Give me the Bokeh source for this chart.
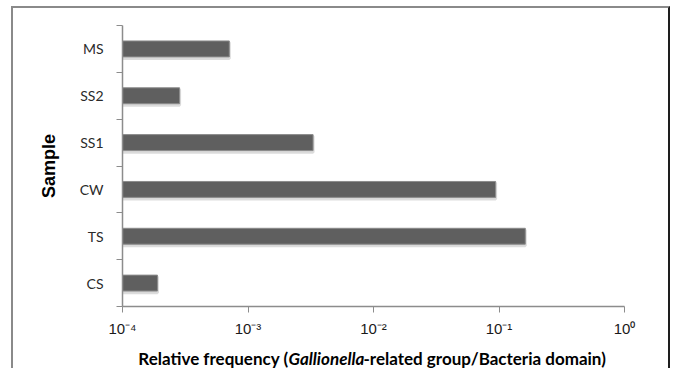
from bokeh.plotting import figure
from bokeh.models import Range1d, FixedTicker, ColumnDataSource, Label
from bokeh.layouts import column
from bokeh.transform import dodge
from bokeh.embed import file_html
from bokeh.resources import INLINE

# ---- data (top-to-bottom order as in the chart) ----
samples = ["MS", "SS2", "SS1", "CW", "TS", "CS"]
rel_freq = [7.1e-4, 2.85e-4, 3.3e-3, 0.094, 0.162, 1.9e-4]
x_tick_values = [1e-4, 1e-3, 1e-2, 1e-1, 1e0]
x_tick_labels = ["10⁻⁴", "10⁻³", "10⁻²", "10⁻¹", "10⁰"]
x_start = 1e-4
x_title_parts = ["Relative frequency (", "Gallionella", "-related group/Bacteria domain)"]

n = len(samples)
ypos = [n - i - 0.5 for i in range(n)]
src = ColumnDataSource(dict(y=ypos, right=rel_freq, left=[x_start] * n, name=samples))

W, H = 659, 336
BL, BR = 109, 48          # borders around the plotting frame
GRAY = "2px solid #8a8a8a"
DARK = "2px solid #1e1e1e"

p = figure(width=W, height=H, x_axis_type="log",
           x_range=Range1d(x_tick_values[0], x_tick_values[-1]),
           y_range=Range1d(0, n),
           output_backend="svg", toolbar_location=None,
           min_border_left=BL, min_border_right=BR,
           min_border_top=17, min_border_bottom=38)
p.styles = {"margin-left": "11px", "margin-top": "6px",
            "border-left": GRAY, "border-top": GRAY, "border-right": DARK}
p.outline_line_color = None
p.grid.visible = False
p.background_fill_color = "white"

# shadow
p.hbar(y=dodge("y", -0.035), left="left", right="right", height=0.34, source=src,
       fill_color="#cfcfcf", line_color="#d8d8d8", line_width=3, alpha=0.9)
# bars
p.hbar(y="y", left="left", right="right", height=0.34, source=src,
       fill_color="#5f5f5f", line_color="#8c8c8c", line_width=1)

# x axis
xa = p.xaxis[0]
xa.ticker = FixedTicker(ticks=x_tick_values, minor_ticks=[])
xa.major_label_overrides = {v: s for v, s in zip(x_tick_values, x_tick_labels)}
xa.axis_line_color = "#8c8c8c"
xa.axis_line_width = 1.5
xa.major_tick_line_color = "#8c8c8c"
xa.major_tick_out = 6
xa.major_tick_in = 0
xa.minor_tick_line_color = None
xa.major_label_text_font = "Liberation Sans"
xa.major_label_text_font_size = "15px"
xa.major_label_text_color = "#1a1a1a"
xa.major_label_standoff = 7

# y axis
ya = p.yaxis[0]
ya.ticker = FixedTicker(ticks=ypos, minor_ticks=list(range(n + 1)))
ya.major_label_overrides = {y: s for y, s in zip(ypos, samples)}
ya.axis_line_color = "#8c8c8c"
ya.axis_line_width = 1.5
ya.major_tick_line_color = None
ya.minor_tick_line_color = "#8c8c8c"
ya.minor_tick_out = 6
ya.minor_tick_in = 0
ya.major_label_text_font = "Lato"
ya.major_label_text_font_size = "14px"
ya.major_label_text_color = "#2a2a2a"
ya.major_label_standoff = 13
ya.axis_label = "Sample"
ya.axis_label_text_font = "Liberation Sans"
ya.axis_label_text_font_style = "bold"
ya.axis_label_text_font_size = "18px"
ya.axis_label_text_color = "#000000"
ya.axis_label_standoff = 18

# ---- x axis title strip (mixed bold / bold-italic text) ----
# its frame is aligned with the main plot's frame by the column layout,
# so x is measured in pixels from the frame's left edge
H2 = 26
FW = W - BL - BR
t = figure(width=W, height=H2, x_range=Range1d(0, FW), y_range=Range1d(H2, 0),
           x_axis_location=None, y_axis_location=None,
           output_backend="svg", toolbar_location=None,
           min_border_left=BL, min_border_right=BR, min_border_top=0, min_border_bottom=0)
t.styles = {"margin-left": "11px", "border-left": GRAY, "border-right": DARK}
t.grid.visible = False
t.outline_line_color = None
common = dict(y=16, text_font="Lato", text_font_size="17px",
              text_color="#000000", text_baseline="middle")
t.add_layout(Label(text=x_title_parts[0], x=166, text_align="right",
                   text_font_style="bold", **common))
t.add_layout(Label(text=x_title_parts[1], x=166, text_align="left",
                   text_font_style="bold italic", **common))
t.add_layout(Label(text=x_title_parts[2], x=241, text_align="left",
                   text_font_style="bold", **common))

layout = column(p, t, spacing=0)
open("out.html", "w").write(file_html(layout, INLINE))
